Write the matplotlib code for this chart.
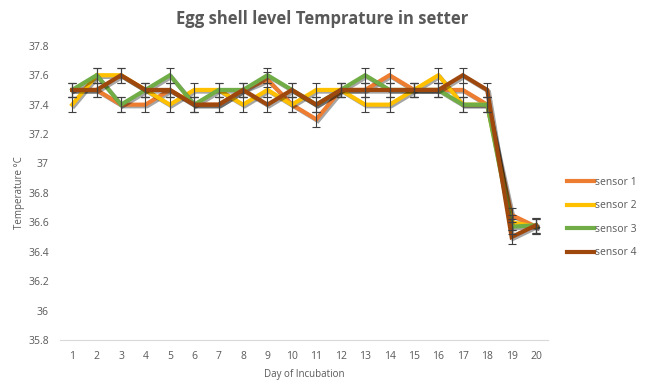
import matplotlib.pyplot as plt
import matplotlib.patheffects as pe
from matplotlib.lines import Line2D

days = list(range(1, 21))
sensor1 = [37.5, 37.5, 37.4, 37.4, 37.5, 37.4, 37.4, 37.5, 37.57, 37.4,
           37.3, 37.5, 37.5, 37.6, 37.5, 37.5, 37.5, 37.4, 36.65, 36.57]
sensor2 = [37.4, 37.6, 37.6, 37.5, 37.4, 37.5, 37.5, 37.4, 37.5, 37.4,
           37.5, 37.5, 37.4, 37.4, 37.5, 37.6, 37.4, 37.4, 36.6, 36.57]
sensor3 = [37.5, 37.6, 37.4, 37.5, 37.6, 37.4, 37.5, 37.5, 37.6, 37.5,
           37.4, 37.5, 37.6, 37.5, 37.5, 37.5, 37.4, 37.4, 36.57, 36.58]
sensor4 = [37.5, 37.5, 37.6, 37.5, 37.5, 37.4, 37.4, 37.5, 37.4, 37.5,
           37.4, 37.5, 37.5, 37.5, 37.5, 37.5, 37.6, 37.5, 36.5, 36.58]
err = 0.05
labels = ['sensor 1', 'sensor 2', 'sensor 3', 'sensor 4']
colors = ['#ED7D31', '#FFC000', '#70AD47', '#9E480E']
yticks = [35.8, 36.0, 36.2, 36.4, 36.6, 36.8, 37.0, 37.2, 37.4, 37.6, 37.8]

plt.rcParams['font.family'] = ['Open Sans', 'DejaVu Sans']
txt = '#595959'

fig = plt.figure(figsize=(6.45, 3.85), dpi=100)
ax = fig.add_axes([0.093, 0.117, 0.757, 0.764])

series = [sensor1, sensor2, sensor3, sensor4]
for vals, col in zip(series, colors):
    ax.plot(days, vals, color=col, lw=3, solid_joinstyle='miter',
            path_effects=[pe.SimpleLineShadow(offset=(1.2, -1.2), alpha=0.35),
                          pe.Normal()])
for vals in series:
    ax.errorbar(days, vals, yerr=err, fmt='none', ecolor='#404040',
                elinewidth=0.8, capsize=3, capthick=0.8, zorder=5)

ax.set_xlim(0.5, 20.5)
ax.set_ylim(35.8, 37.8)
ax.set_xticks(days)
ax.set_yticks(yticks)
ax.set_yticklabels(['%g' % v for v in yticks])
ax.tick_params(length=0, colors=txt, labelsize=7.5, pad=8)
for s in ['top', 'right', 'left']:
    ax.spines[s].set_visible(False)
ax.spines['bottom'].set_color('#d9d9d9')

fig.suptitle('Egg shell level Temprature in setter', x=0.5, y=0.975,
             fontsize=12, fontweight='bold', color=txt)
ax.set_xlabel('Day of Incubation', fontsize=7, color=txt, labelpad=5)
ax.set_ylabel('Temperature \u00b0C', fontsize=7, color=txt, labelpad=2)

handles = [Line2D([], [], color=c, lw=3) for c in colors]
fig.legend(handles, labels, loc='center left', bbox_to_anchor=(0.865, 0.435),
           frameon=False, fontsize=7.5, labelcolor=txt, handlelength=2.6,
           handletextpad=0.1, labelspacing=1.2)

fig.savefig('out.png', dpi=100)
